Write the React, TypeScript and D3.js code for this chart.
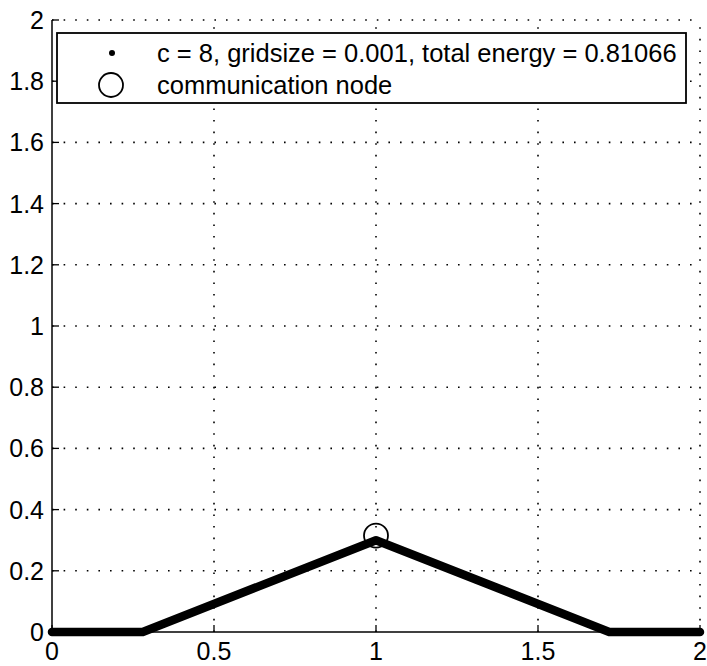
import React, { useEffect, useRef } from 'react'
import * as d3 from 'd3'

// curve points (x, y)
const curveX = [0, 0.28, 1, 1.72, 2]
const curveY = [0, 0, 0.3, 0, 0]
const nodeX = [1]
const nodeY = [0.315]
const xTicks = [0, 0.5, 1, 1.5, 2]
const yTicks = [0, 0.2, 0.4, 0.6, 0.8, 1, 1.2, 1.4, 1.6, 1.8, 2]
const legendLabels = ['c = 8, gridsize = 0.001, total energy = 0.81066', 'communication node']

const width = 707
const height = 666
const margin = { left: 52, right: 7, top: 20, bottom: 34 }
const font = '"Liberation Sans", Arial, Helvetica, sans-serif'

function App() {
    const ref = useRef<SVGSVGElement>(null)

    useEffect(() => {
        const svg = d3.select(ref.current)
        svg.selectAll('*').remove()

        const x = d3.scaleLinear().domain([0, 2]).range([margin.left, width - margin.right])
        const y = d3.scaleLinear().domain([0, 2]).range([height - margin.bottom, margin.top])

        // dotted grid
        const grid = svg.append('g').attr('stroke', '#000').attr('stroke-width', 1.6)
            .attr('stroke-dasharray', '1.6,10').attr('stroke-linecap', 'butt')
        grid.selectAll('.gx').data(xTicks.slice(1)).join('line')
            .attr('x1', d => x(d)).attr('x2', d => x(d))
            .attr('y1', y(0)).attr('y2', y(2))
        grid.selectAll('.gy').data(yTicks.slice(1)).join('line')
            .attr('class', 'gy')
            .attr('y1', d => y(d)).attr('y2', d => y(d))
            .attr('x1', x(0)).attr('x2', x(2))

        // axes lines
        svg.append('line').attr('x1', x(0)).attr('x2', x(0)).attr('y1', y(0)).attr('y2', y(2))
            .attr('stroke', '#000').attr('stroke-width', 1.5)
        svg.append('line').attr('x1', x(0)).attr('x2', x(2)).attr('y1', y(0)).attr('y2', y(0))
            .attr('stroke', '#000').attr('stroke-width', 1.5)

        // ticks (inward)
        svg.append('g').selectAll('line').data(yTicks).join('line')
            .attr('x1', x(0)).attr('x2', x(0) + 7)
            .attr('y1', d => y(d)).attr('y2', d => y(d))
            .attr('stroke', '#000').attr('stroke-width', 1.3)
        svg.append('g').selectAll('line').data(xTicks).join('line')
            .attr('y1', y(0)).attr('y2', y(0) - 7)
            .attr('x1', d => x(d)).attr('x2', d => x(d))
            .attr('stroke', '#000').attr('stroke-width', 1.3)

        // tick labels
        svg.append('g').selectAll('text').data(yTicks).join('text')
            .attr('x', x(0) - 8).attr('y', d => y(d)).attr('dy', '0.36em')
            .attr('text-anchor', 'end').attr('font-family', font).attr('font-size', 25)
            .text(d => d3.format('~g')(d))
        svg.append('g').selectAll('text').data(xTicks).join('text')
            .attr('x', d => x(d)).attr('y', y(0) + 28)
            .attr('text-anchor', 'middle').attr('font-family', font).attr('font-size', 25)
            .text(d => d3.format('~g')(d))

        // energy curve
        const pts = curveX.map((v, i) => [v, curveY[i]] as [number, number])
        svg.append('path').datum(pts)
            .attr('d', d3.line<[number, number]>().x(d => x(d[0])).y(d => y(d[1])))
            .attr('fill', 'none').attr('stroke', '#000').attr('stroke-width', 8.5)
            .attr('stroke-linejoin', 'round').attr('stroke-linecap', 'round')

        // communication node
        svg.append('g').selectAll('circle').data(nodeX).join('circle')
            .attr('cx', d => x(d)).attr('cy', (_d, i) => y(nodeY[i])).attr('r', 12)
            .attr('fill', 'none').attr('stroke', '#000').attr('stroke-width', 1.8)

        // legend
        const lg = svg.append('g')
        lg.append('rect').attr('x', 57).attr('y', 33).attr('width', 629).attr('height', 70)
            .attr('fill', '#fff').attr('stroke', '#000').attr('stroke-width', 1.8)
        lg.append('circle').attr('cx', 112).attr('cy', 53).attr('r', 3).attr('fill', '#000')
        lg.append('circle').attr('cx', 111).attr('cy', 85).attr('r', 12)
            .attr('fill', 'none').attr('stroke', '#000').attr('stroke-width', 1.8)
        lg.selectAll('text').data(legendLabels).join('text')
            .attr('x', 157).attr('y', (_d, i) => 62 + i * 32)
            .attr('font-family', font).attr('font-size', 25.5)
            .text(d => d)
    }, [])

    return (
        <svg ref={ref} width={width} height={height}
            style={{ position: 'absolute', left: 0, top: 0, background: '#fff' }} />
    )
}

export default App
